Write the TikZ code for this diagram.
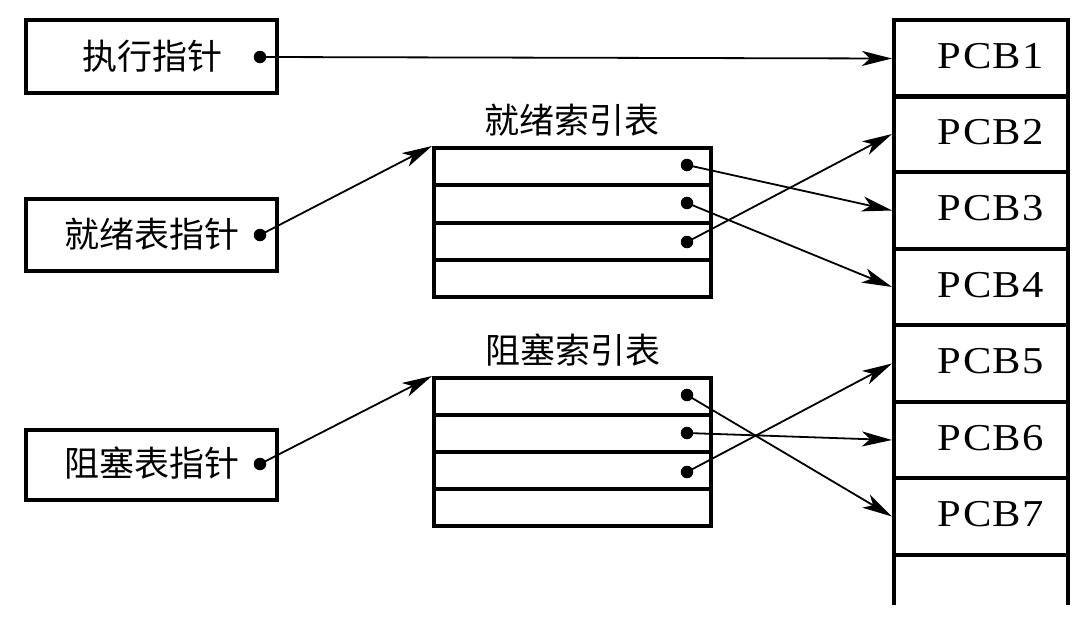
\documentclass[tikz,border=0pt]{standalone}
\usepackage{fontspec}
\setmainfont{Liberation Serif}
\newfontfamily\cjk{Noto Sans CJK SC}
\newfontfamily\pcbfont[LetterSpace=4,FakeStretch=1.12]{Liberation Serif}
\usetikzlibrary{arrows.meta}
\begin{document}
\begin{tikzpicture}[x=1pt,y=-1pt,
  box/.style={draw, line width=4pt, inner sep=0pt},
  pcb/.style={draw, line width=4pt, inner sep=0pt, minimum width=174pt, minimum height=76.5pt},
  pcbtext/.style={inner sep=0pt, font=\pcbfont\fontsize{38}{44}\selectfont},
  row/.style={draw, line width=4pt, inner sep=0pt, minimum width=277pt},
  ctext/.style={inner sep=0pt, font=\cjk\fontsize{35}{40}\selectfont},
  ptr/.style={-{Stealth[length=30pt,width=15pt,inset=8pt]}, line width=1.8pt},
  dot/.style={circle, fill, inner sep=0pt, minimum size=12.5pt}]
\useasboundingbox (0,0) rectangle (1089,621);
% pointer boxes
\node[box, minimum width=251pt, minimum height=73pt] (exec) at (151.5,56.5) {};
\node[box, minimum width=251pt, minimum height=72pt] (ready) at (151.5,235) {};
\node[box, minimum width=251pt, minimum height=70pt] (block) at (151.5,465) {};
\node[ctext] (exect) at (152,56) {执行指针};
\node[ctext] (readyt) at (151.5,234) {就绪表指针};
\node[ctext] (blockt) at (151.5,463) {阻塞表指针};
\node[dot] (execd) at (260,57) {};
\node[dot] (readyd) at (260,235) {};
\node[dot] (blockd) at (260,464) {};
% ready index table
\node[ctext] (rtitle) at (572,120) {就绪索引表};
\node[row, minimum height=37pt] (r1) at (572.5,166.5) {};
\node[row, minimum height=38pt] (r2) at (572.5,204) {};
\node[row, minimum height=37pt] (r3) at (572.5,241.5) {};
\node[row, minimum height=37pt] (r4) at (572.5,278.5) {};
\node[dot] (rd1) at (687,165) {};
\node[dot] (rd2) at (687,203) {};
\node[dot] (rd3) at (687,242) {};
% block index table
\node[ctext] (btitle) at (573,350) {阻塞索引表};
\node[row, minimum height=37pt] (b1) at (572.5,396.5) {};
\node[row, minimum height=37pt] (b2) at (572.5,433.5) {};
\node[row, minimum height=37pt] (b3) at (572.5,470.5) {};
\node[row, minimum height=37pt] (b4) at (572.5,507.5) {};
\node[dot] (bd1) at (687,395) {};
\node[dot] (bd2) at (687,433) {};
\node[dot] (bd3) at (687,472) {};
% PCB column
\node[pcb] (p1) at (981,58.5) {};
\node[pcb] (p2) at (981,134) {};
\node[pcb] (p3) at (981,210.5) {};
\node[pcb] (p4) at (981,287) {};
\node[pcb] (p5) at (981,363.5) {};
\node[pcb] (p6) at (981,440) {};
\node[pcb] (p7) at (981,516.5) {};
\node[pcbtext] (p1t) at (991,56.5) {PCB1};
\node[pcbtext] (p2t) at (991,132) {PCB2};
\node[pcbtext] (p3t) at (991,208.5) {PCB3};
\node[pcbtext] (p4t) at (991,285) {PCB4};
\node[pcbtext] (p5t) at (991,361.5) {PCB5};
\node[pcbtext] (p6t) at (991,438) {PCB6};
\node[pcbtext] (p7t) at (991,514.5) {PCB7};
\coordinate (endl) at (894,605);
\coordinate (endr) at (1068,605);
\draw[line width=4pt] (p7.south west) ++(2,0) -- (endl);
\draw[line width=4pt] (p7.south east) ++(-2,0) -- (endr);
% connectors
\draw[ptr] (execd.center) -- (p1.west);
\draw[ptr] (readyd.center) -- (r1.north west);
\draw[ptr] (blockd.center) -- (b1.north west);
\draw[ptr] (rd1.center) -- (p3.west);
\draw[ptr] (rd2.center) -- (p4.west);
\draw[ptr] (rd3.center) -- (p2.west);
\draw[ptr] (bd1.center) -- (p7.west);
\draw[ptr] (bd2.center) -- (p6.west);
\draw[ptr] (bd3.center) -- (p5.west);
\end{tikzpicture}
\end{document}
